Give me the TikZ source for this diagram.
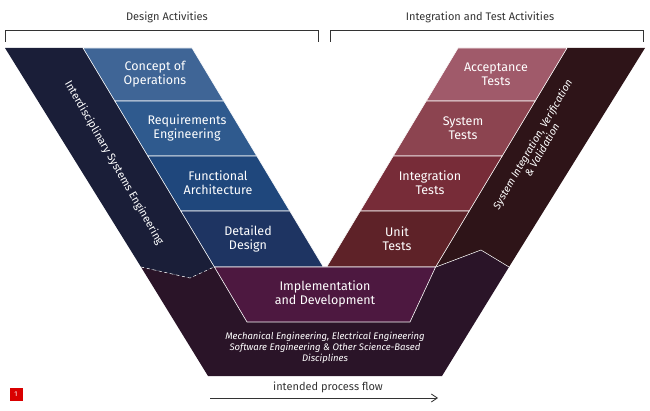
\documentclass[tikz,border=0pt]{standalone}
\usepackage{fontspec}
\setmainfont{Fira Sans}
\usetikzlibrary{arrows.meta}
\definecolor{cA}{HTML}{3F6596}\definecolor{cB}{HTML}{2F5A8E}\definecolor{cC}{HTML}{1F477C}\definecolor{cD}{HTML}{1E3462}
\definecolor{cL}{HTML}{1A1E38}
\definecolor{rA}{HTML}{A05A6A}\definecolor{rB}{HTML}{8C4450}\definecolor{rC}{HTML}{772C38}\definecolor{rD}{HTML}{5E2228}
\definecolor{cR}{HTML}{2E1418}\definecolor{cI}{HTML}{4D1840}\definecolor{cBot}{HTML}{2A1428}
\definecolor{txt}{HTML}{333333}
\begin{document}
\begin{tikzpicture}[x=1pt,y=-1pt,
 tile/.style={draw=white!75,line width=0.6pt},
 ttext/.style={text=white!92,align=center,font=\fontsize{12.5}{14}\selectfont},
 title/.style={text=txt,font=\fontsize{11}{12}\selectfont}]
\useasboundingbox (0,0) rectangle (650,411);
% bottom region
\fill[cBot] (141,267) -- (190,278) -- (214,267) -- (436,267) -- (481,250) -- (509,267) -- (442,376) -- (208,376) -- cycle;
% bands
\fill[cL] (5,48) -- (83,48) -- (214.4,267) -- (190,278) -- (141,267) -- cycle;
\fill[cR] (567,48) -- (645,48) -- (509,267) -- (481,250) -- (435.6,267) -- cycle;
\draw[white!60,line width=0.5pt,dashed] (141,267) -- (190,278) -- (214,267);
\draw[white!60,line width=0.5pt] (436,267) -- (481,250) -- (509,267);
% blue tiles
\filldraw[tile,fill=cA] (83,48) -- (192,48) -- (223.8,101) -- (114.8,101) -- cycle;
\filldraw[tile,fill=cB] (114.8,101) -- (223.8,101) -- (256.8,156) -- (147.8,156) -- cycle;
\filldraw[tile,fill=cC] (147.8,156) -- (256.8,156) -- (289.8,211) -- (180.8,211) -- cycle;
\filldraw[tile,fill=cD] (180.8,211) -- (289.8,211) -- (323.4,267) -- (214.4,267) -- cycle;
% red tiles
\filldraw[tile,fill=rA] (458,48) -- (567,48) -- (535.2,101) -- (426.2,101) -- cycle;
\filldraw[tile,fill=rB] (426.2,101) -- (535.2,101) -- (502.2,156) -- (393.2,156) -- cycle;
\filldraw[tile,fill=rC] (393.2,156) -- (502.2,156) -- (469.2,211) -- (360.2,211) -- cycle;
\filldraw[tile,fill=rD] (360.2,211) -- (469.2,211) -- (435.6,267) -- (326.6,267) -- cycle;
% implementation
\filldraw[tile,fill=cI] (214.4,267) -- (435.6,267) -- (410,322) -- (247,322) -- cycle;
% texts
\node[ttext] (t1) at (155,74) {Concept of\\Operations};
\node[ttext] (t2) at (187,128) {Requirements\\Engineering};
\node[ttext] (t3) at (218,183) {Functional\\Architecture};
\node[ttext] (t4) at (248,239) {Detailed\\Design};
\node[ttext] (u1) at (496,74) {Acceptance\\Tests};
\node[ttext] (u2) at (463,128) {System\\Tests};
\node[ttext] (u3) at (430,183) {Integration\\Tests};
\node[ttext] (u4) at (397,239) {Unit\\Tests};
\node[ttext] (im) at (325,294) {Implementation\\and Development};
\node[text=white!70,rotate=-60,inner sep=0pt,font=\fontsize{11}{12}\selectfont] (lb) at (114,163) {Interdisciplinary Systems Engineering};
\node[text=white!70,rotate=60,inner sep=0pt,align=center,font=\itshape\fontsize{10.5}{11}\selectfont] (rb) at (537,147) {System Integration, Verification\\\& Validation};
\node[text=white!65,align=center,font=\itshape\fontsize{9.5}{11}\selectfont] (bt) at (325,348) {Mechanical Engineering, Electrical Engineering\\Software Engineering \& Other Science-Based\\Disciplines};
% brackets
\node[title] (da) at (167,17) {Design Activities};
\node[title] (ia) at (480,17) {Integration and Test Activities};
\draw[txt,line width=0.8pt] (5,42) -- (5,30) -- (318,30) -- (318,42);
\draw[txt,line width=0.8pt] (330,42) -- (330,30) -- (643,30) -- (643,42);
% flow arrow
\coordinate (fa) at (210,398); \coordinate (fb) at (438,398);
\draw[txt,line width=0.8pt,-{Straight Barb[length=6pt,width=8pt]}] (fa) -- (fb);
\node[title] (fl) at (328,387) {intended process flow};
% badge
\node[fill=red!85!black,text=white,minimum size=13pt,inner sep=0pt,font=\fontsize{7}{7}\selectfont] (bd) at (16,394) {1};
\end{tikzpicture}
\end{document}
